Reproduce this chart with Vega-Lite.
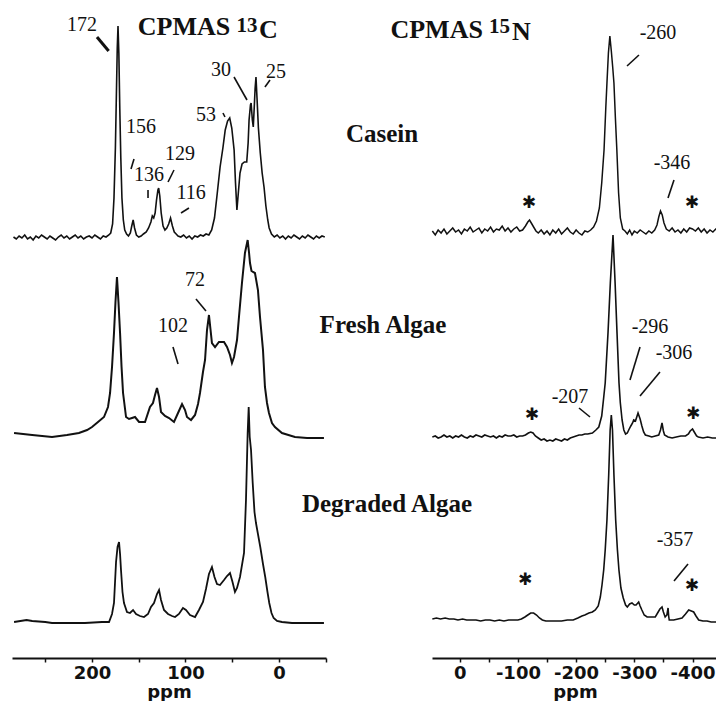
{
"$schema":"https://vega.github.io/schema/vega-lite/v6.json",
"background":"white",
"padding":{"left":10,"top":0,"right":0,"bottom":0},
"autosize":{"type":"pad"},
"bounds":"flush",
"spacing":106,
"config":{"view":{"stroke":null},
 "axis":{"grid":false,"domainColor":"#111","domainWidth":2,"tickColor":"#111","tickWidth":1.5,"tickSize":4,"labelFont":"DejaVu Sans","labelFontSize":18,"labelFontWeight":"bold","labelColor":"#111","labelPadding":2,"titleFont":"DejaVu Sans","titleFontSize":18,"titleFontWeight":"bold","titleColor":"#111","titlePadding":1}},
"datasets":{
"cCasein":[{"ppm":284,"I":1},{"ppm":281,"I":-1},{"ppm":278,"I":2},{"ppm":275,"I":0},{"ppm":272,"I":3},{"ppm":269,"I":-1},{"ppm":266,"I":1},{"ppm":263,"I":-2},{"ppm":260,"I":2},{"ppm":257,"I":0},{"ppm":254,"I":3},{"ppm":251,"I":1},{"ppm":248,"I":-1},{"ppm":245,"I":2},{"ppm":242,"I":0},{"ppm":239,"I":-2},{"ppm":236,"I":1},{"ppm":233,"I":3},{"ppm":230,"I":0},{"ppm":227,"I":2},{"ppm":224,"I":-1},{"ppm":221,"I":1},{"ppm":218,"I":3},{"ppm":215,"I":0},{"ppm":212,"I":2},{"ppm":209,"I":-1},{"ppm":206,"I":1},{"ppm":203,"I":2},{"ppm":200,"I":0},{"ppm":197,"I":3},{"ppm":194,"I":1},{"ppm":191,"I":-1},{"ppm":188,"I":2},{"ppm":185,"I":1},{"ppm":182,"I":3},{"ppm":180,"I":5},{"ppm":178,"I":14},{"ppm":176.5,"I":40},{"ppm":175,"I":90},{"ppm":174,"I":140},{"ppm":173,"I":190},{"ppm":172.2,"I":212},{"ppm":171.3,"I":185},{"ppm":170.3,"I":130},{"ppm":169.2,"I":80},{"ppm":168,"I":40},{"ppm":166.5,"I":18},{"ppm":165,"I":8},{"ppm":163,"I":4},{"ppm":161,"I":2},{"ppm":159,"I":5},{"ppm":157.5,"I":12},{"ppm":156,"I":18},{"ppm":154.5,"I":10},{"ppm":152.5,"I":3},{"ppm":150,"I":1},{"ppm":147.5,"I":2},{"ppm":145,"I":4},{"ppm":142,"I":6},{"ppm":139.5,"I":10},{"ppm":137,"I":16},{"ppm":135.5,"I":22},{"ppm":134,"I":20},{"ppm":132.5,"I":25},{"ppm":131,"I":38},{"ppm":129.5,"I":48},{"ppm":128.7,"I":50},{"ppm":127.5,"I":42},{"ppm":126,"I":25},{"ppm":124,"I":12},{"ppm":122,"I":8},{"ppm":120,"I":10},{"ppm":118,"I":14},{"ppm":116,"I":20},{"ppm":114,"I":12},{"ppm":112,"I":6},{"ppm":110,"I":4},{"ppm":108,"I":2},{"ppm":105,"I":1},{"ppm":102,"I":3},{"ppm":99,"I":0},{"ppm":96,"I":2},{"ppm":93,"I":-1},{"ppm":90,"I":2},{"ppm":87,"I":1},{"ppm":84,"I":3},{"ppm":81,"I":2},{"ppm":78,"I":4},{"ppm":75,"I":3},{"ppm":72,"I":8},{"ppm":69,"I":20},{"ppm":66,"I":45},{"ppm":63,"I":71},{"ppm":60,"I":90},{"ppm":57.5,"I":108},{"ppm":55,"I":117},{"ppm":52.7,"I":120},{"ppm":50.5,"I":110},{"ppm":48,"I":88},{"ppm":46.5,"I":55},{"ppm":45,"I":28},{"ppm":43.5,"I":45},{"ppm":41.7,"I":65},{"ppm":39.5,"I":74},{"ppm":37,"I":76},{"ppm":34.5,"I":76},{"ppm":33,"I":95},{"ppm":32,"I":118},{"ppm":30.5,"I":133},{"ppm":29.8,"I":135},{"ppm":28.5,"I":118},{"ppm":27.5,"I":111},{"ppm":26.5,"I":130},{"ppm":25.5,"I":150},{"ppm":24.6,"I":161},{"ppm":23.5,"I":140},{"ppm":22,"I":110},{"ppm":20,"I":85},{"ppm":18,"I":65},{"ppm":16,"I":51},{"ppm":14,"I":32},{"ppm":12,"I":18},{"ppm":10.5,"I":10},{"ppm":8,"I":4},{"ppm":5,"I":1},{"ppm":2,"I":3},{"ppm":-1,"I":0},{"ppm":-4,"I":2},{"ppm":-7,"I":-1},{"ppm":-10,"I":2},{"ppm":-13,"I":0},{"ppm":-16,"I":3},{"ppm":-19,"I":1},{"ppm":-22,"I":-1},{"ppm":-25,"I":2},{"ppm":-28,"I":0},{"ppm":-31,"I":3},{"ppm":-34,"I":1},{"ppm":-37,"I":-1},{"ppm":-40,"I":2},{"ppm":-43,"I":0},{"ppm":-46,"I":2},{"ppm":-49,"I":1}],
"cFresh":[{"ppm":283.4,"I":4},{"ppm":264,"I":2},{"ppm":242.8,"I":0},{"ppm":226.8,"I":2},{"ppm":214,"I":4},{"ppm":205.3,"I":7},{"ppm":200,"I":10},{"ppm":193.6,"I":15},{"ppm":187.2,"I":20},{"ppm":182.9,"I":30},{"ppm":180.7,"I":44},{"ppm":178.6,"I":70},{"ppm":176.5,"I":104},{"ppm":174.9,"I":135},{"ppm":173.3,"I":160},{"ppm":171.7,"I":135},{"ppm":170,"I":104},{"ppm":168.4,"I":70},{"ppm":166.8,"I":44},{"ppm":163.6,"I":20},{"ppm":160.4,"I":18},{"ppm":157.2,"I":19},{"ppm":154,"I":20},{"ppm":149.7,"I":15},{"ppm":143.3,"I":15},{"ppm":138,"I":30},{"ppm":134.8,"I":34},{"ppm":132.6,"I":42},{"ppm":130.5,"I":49},{"ppm":128.3,"I":40},{"ppm":126.2,"I":25},{"ppm":121.9,"I":21},{"ppm":117.6,"I":19},{"ppm":112.3,"I":15},{"ppm":108,"I":24},{"ppm":103.7,"I":33},{"ppm":100.5,"I":27},{"ppm":98.4,"I":20},{"ppm":94.1,"I":17},{"ppm":89.8,"I":22},{"ppm":86.6,"I":33},{"ppm":84.5,"I":44},{"ppm":81.3,"I":65},{"ppm":79.1,"I":77},{"ppm":77,"I":107},{"ppm":74.9,"I":122},{"ppm":73.3,"I":108},{"ppm":71.7,"I":94},{"ppm":68.4,"I":90},{"ppm":64.2,"I":95},{"ppm":61,"I":95},{"ppm":58.8,"I":95},{"ppm":55.6,"I":90},{"ppm":52.4,"I":82},{"ppm":50.3,"I":74},{"ppm":48.1,"I":80},{"ppm":44.9,"I":97},{"ppm":42.8,"I":120},{"ppm":39.6,"I":154},{"ppm":36.4,"I":184},{"ppm":33.5,"I":197},{"ppm":32.1,"I":185},{"ppm":31,"I":174},{"ppm":29.4,"I":166},{"ppm":27.8,"I":165},{"ppm":25.7,"I":164},{"ppm":22.5,"I":147},{"ppm":20.3,"I":120},{"ppm":17.1,"I":87},{"ppm":15,"I":50},{"ppm":12.8,"I":34},{"ppm":10.7,"I":24},{"ppm":7.5,"I":14},{"ppm":4.3,"I":10},{"ppm":-3.2,"I":4},{"ppm":-17.1,"I":0},{"ppm":-30,"I":-1},{"ppm":-48.1,"I":-1}],
"cDeg":[{"ppm":283.4,"I":0},{"ppm":270,"I":2},{"ppm":264,"I":1},{"ppm":250,"I":0},{"ppm":242.8,"I":-1},{"ppm":221.4,"I":-1},{"ppm":207.5,"I":-1},{"ppm":189.3,"I":0},{"ppm":181.8,"I":0},{"ppm":178.6,"I":8},{"ppm":176.5,"I":19},{"ppm":174.3,"I":60},{"ppm":172.7,"I":75},{"ppm":171.1,"I":80},{"ppm":170,"I":68},{"ppm":169,"I":52},{"ppm":167.4,"I":30},{"ppm":165.8,"I":19},{"ppm":162.6,"I":10},{"ppm":159.4,"I":9},{"ppm":156.1,"I":12},{"ppm":152.9,"I":8},{"ppm":148.7,"I":6},{"ppm":144.4,"I":5},{"ppm":140.1,"I":8},{"ppm":136.9,"I":15},{"ppm":133.7,"I":19},{"ppm":130.5,"I":28},{"ppm":128.3,"I":32},{"ppm":126.2,"I":22},{"ppm":123,"I":12},{"ppm":118.7,"I":8},{"ppm":114.4,"I":6},{"ppm":111.2,"I":5},{"ppm":107,"I":8},{"ppm":102.7,"I":14},{"ppm":99.5,"I":12},{"ppm":95.2,"I":7},{"ppm":89.8,"I":5},{"ppm":85.6,"I":12},{"ppm":81.3,"I":20},{"ppm":78.1,"I":33},{"ppm":74.9,"I":48},{"ppm":71.7,"I":55},{"ppm":69,"I":45},{"ppm":66.3,"I":38},{"ppm":63.1,"I":37},{"ppm":58.8,"I":42},{"ppm":55.6,"I":46},{"ppm":52.4,"I":49},{"ppm":49.7,"I":40},{"ppm":47.1,"I":30},{"ppm":44.9,"I":34},{"ppm":41.7,"I":45},{"ppm":37.4,"I":69},{"ppm":35.3,"I":122},{"ppm":33.5,"I":189},{"ppm":32.4,"I":215},{"ppm":31.3,"I":185},{"ppm":29.9,"I":172},{"ppm":28.1,"I":139},{"ppm":26.2,"I":110},{"ppm":24.6,"I":99},{"ppm":22.5,"I":88},{"ppm":20,"I":75},{"ppm":17.1,"I":58},{"ppm":14.7,"I":45},{"ppm":12.3,"I":30},{"ppm":10.4,"I":19},{"ppm":8,"I":9},{"ppm":5.7,"I":4},{"ppm":2.1,"I":1},{"ppm":-3.2,"I":0},{"ppm":-13.9,"I":-1},{"ppm":-24.6,"I":-1},{"ppm":-35.3,"I":-1},{"ppm":-48.1,"I":-1}],
"nCasein":[{"ppm":47,"I":2},{"ppm":42,"I":-2},{"ppm":37,"I":3},{"ppm":32,"I":0},{"ppm":27,"I":4},{"ppm":22,"I":-1},{"ppm":17,"I":2},{"ppm":12,"I":5},{"ppm":7,"I":1},{"ppm":2,"I":3},{"ppm":-3,"I":-1},{"ppm":-8,"I":4},{"ppm":-13,"I":2},{"ppm":-18,"I":6},{"ppm":-23,"I":1},{"ppm":-28,"I":3},{"ppm":-33,"I":5},{"ppm":-38,"I":0},{"ppm":-43,"I":4},{"ppm":-48,"I":2},{"ppm":-53,"I":6},{"ppm":-58,"I":1},{"ppm":-63,"I":4},{"ppm":-68,"I":3},{"ppm":-73,"I":7},{"ppm":-78,"I":2},{"ppm":-83,"I":5},{"ppm":-88,"I":1},{"ppm":-93,"I":4},{"ppm":-98,"I":6},{"ppm":-103,"I":2},{"ppm":-108,"I":3},{"ppm":-113,"I":7},{"ppm":-117,"I":11},{"ppm":-120,"I":13},{"ppm":-123,"I":10},{"ppm":-127,"I":6},{"ppm":-131,"I":2},{"ppm":-135,"I":0},{"ppm":-140,"I":3},{"ppm":-145,"I":-1},{"ppm":-150,"I":2},{"ppm":-155,"I":-2},{"ppm":-160,"I":3},{"ppm":-165,"I":0},{"ppm":-170,"I":4},{"ppm":-175,"I":-1},{"ppm":-180,"I":2},{"ppm":-185,"I":5},{"ppm":-190,"I":1},{"ppm":-195,"I":-1},{"ppm":-200,"I":3},{"ppm":-205,"I":0},{"ppm":-210,"I":-2},{"ppm":-215,"I":2},{"ppm":-220,"I":1},{"ppm":-225,"I":3},{"ppm":-230,"I":6},{"ppm":-235,"I":12},{"ppm":-240,"I":25},{"ppm":-244,"I":50},{"ppm":-248,"I":83},{"ppm":-251,"I":125},{"ppm":-253,"I":150},{"ppm":-255.5,"I":180},{"ppm":-258,"I":197},{"ppm":-260.5,"I":182},{"ppm":-263,"I":165},{"ppm":-265,"I":150},{"ppm":-267.5,"I":115},{"ppm":-270,"I":83},{"ppm":-273,"I":40},{"ppm":-276,"I":15},{"ppm":-280,"I":4},{"ppm":-284,"I":2},{"ppm":-288,"I":-1},{"ppm":-292,"I":3},{"ppm":-296,"I":-2},{"ppm":-300,"I":2},{"ppm":-305,"I":0},{"ppm":-310,"I":3},{"ppm":-315,"I":1},{"ppm":-320,"I":-1},{"ppm":-325,"I":2},{"ppm":-330,"I":0},{"ppm":-335,"I":3},{"ppm":-339,"I":8},{"ppm":-342,"I":16},{"ppm":-345,"I":22},{"ppm":-348,"I":18},{"ppm":-351,"I":10},{"ppm":-355,"I":4},{"ppm":-360,"I":2},{"ppm":-365,"I":5},{"ppm":-370,"I":1},{"ppm":-375,"I":3},{"ppm":-380,"I":0},{"ppm":-385,"I":4},{"ppm":-390,"I":1},{"ppm":-395,"I":5},{"ppm":-400,"I":4},{"ppm":-405,"I":2},{"ppm":-410,"I":5},{"ppm":-415,"I":1},{"ppm":-420,"I":4},{"ppm":-425,"I":0},{"ppm":-430,"I":3},{"ppm":-435,"I":1},{"ppm":-440,"I":4},{"ppm":-443.8,"I":2}],
"nFresh":[{"ppm":47,"I":1},{"ppm":42,"I":2},{"ppm":37,"I":0},{"ppm":32,"I":1},{"ppm":27,"I":3},{"ppm":22,"I":1},{"ppm":17,"I":2},{"ppm":12,"I":0},{"ppm":7,"I":2},{"ppm":2,"I":1},{"ppm":-3,"I":3},{"ppm":-8,"I":1},{"ppm":-13,"I":0},{"ppm":-18,"I":2},{"ppm":-23,"I":1},{"ppm":-28,"I":3},{"ppm":-33,"I":2},{"ppm":-38,"I":1},{"ppm":-43,"I":3},{"ppm":-48,"I":2},{"ppm":-53,"I":1},{"ppm":-58,"I":2},{"ppm":-63,"I":0},{"ppm":-68,"I":2},{"ppm":-73,"I":1},{"ppm":-78,"I":3},{"ppm":-83,"I":2},{"ppm":-88,"I":2},{"ppm":-93,"I":3},{"ppm":-98,"I":1},{"ppm":-103,"I":2},{"ppm":-108,"I":2},{"ppm":-113,"I":3},{"ppm":-118,"I":5},{"ppm":-122,"I":6},{"ppm":-126,"I":5},{"ppm":-130,"I":2},{"ppm":-135,"I":0},{"ppm":-140,"I":-2},{"ppm":-145,"I":-1},{"ppm":-150,"I":-3},{"ppm":-155,"I":-2},{"ppm":-160,"I":-3},{"ppm":-165,"I":-1},{"ppm":-170,"I":-2},{"ppm":-175,"I":-3},{"ppm":-180,"I":-1},{"ppm":-185,"I":-2},{"ppm":-190,"I":0},{"ppm":-195,"I":1},{"ppm":-200,"I":2},{"ppm":-205,"I":3},{"ppm":-210,"I":3},{"ppm":-215,"I":4},{"ppm":-220,"I":4},{"ppm":-228,"I":5},{"ppm":-234,"I":8},{"ppm":-239,"I":11},{"ppm":-244,"I":22},{"ppm":-247.5,"I":41},{"ppm":-250,"I":55},{"ppm":-254.8,"I":105},{"ppm":-258.8,"I":155},{"ppm":-263.4,"I":203},{"ppm":-267,"I":155},{"ppm":-270.3,"I":105},{"ppm":-273.7,"I":55},{"ppm":-276,"I":35},{"ppm":-279,"I":18},{"ppm":-282,"I":8},{"ppm":-285,"I":4},{"ppm":-288,"I":5},{"ppm":-290.4,"I":8},{"ppm":-294,"I":12},{"ppm":-297,"I":15},{"ppm":-299,"I":18},{"ppm":-302,"I":17},{"ppm":-306.4,"I":25},{"ppm":-310,"I":19},{"ppm":-313,"I":12},{"ppm":-316,"I":6},{"ppm":-319,"I":3},{"ppm":-325,"I":2},{"ppm":-330,"I":1},{"ppm":-336,"I":2},{"ppm":-342,"I":3},{"ppm":-345,"I":8},{"ppm":-347.6,"I":15},{"ppm":-350,"I":7},{"ppm":-352,"I":3},{"ppm":-358,"I":1},{"ppm":-365,"I":0},{"ppm":-372,"I":1},{"ppm":-380,"I":2},{"ppm":-388,"I":2},{"ppm":-393,"I":4},{"ppm":-396,"I":7},{"ppm":-400,"I":9},{"ppm":-403,"I":6},{"ppm":-407,"I":2},{"ppm":-410,"I":1},{"ppm":-418,"I":0},{"ppm":-426,"I":1},{"ppm":-434,"I":0},{"ppm":-443.8,"I":0}],
"nDeg":[{"ppm":47,"I":1},{"ppm":40,"I":2},{"ppm":33,"I":1},{"ppm":25,"I":2},{"ppm":18,"I":1},{"ppm":10,"I":1},{"ppm":3,"I":0},{"ppm":-5,"I":1},{"ppm":-12,"I":0},{"ppm":-20,"I":0},{"ppm":-28,"I":0},{"ppm":-36,"I":-1},{"ppm":-44,"I":0},{"ppm":-52,"I":0},{"ppm":-60,"I":-1},{"ppm":-68,"I":0},{"ppm":-76,"I":-1},{"ppm":-84,"I":0},{"ppm":-92,"I":0},{"ppm":-100,"I":0},{"ppm":-106,"I":1},{"ppm":-112,"I":3},{"ppm":-117,"I":5},{"ppm":-122,"I":7},{"ppm":-127,"I":7},{"ppm":-132,"I":5},{"ppm":-137,"I":2},{"ppm":-142,"I":0},{"ppm":-148,"I":-1},{"ppm":-155,"I":-1},{"ppm":-165,"I":-1},{"ppm":-175,"I":-1},{"ppm":-185,"I":0},{"ppm":-195,"I":0},{"ppm":-203,"I":2},{"ppm":-210,"I":4},{"ppm":-215,"I":5},{"ppm":-222,"I":7},{"ppm":-228,"I":8},{"ppm":-233,"I":10},{"ppm":-238,"I":14},{"ppm":-241.6,"I":23},{"ppm":-244.5,"I":35},{"ppm":-247.4,"I":50},{"ppm":-250,"I":70},{"ppm":-253,"I":100},{"ppm":-256,"I":145},{"ppm":-258.5,"I":190},{"ppm":-260.5,"I":205},{"ppm":-262.5,"I":190},{"ppm":-265,"I":145},{"ppm":-268,"I":100},{"ppm":-271,"I":70},{"ppm":-273.6,"I":50},{"ppm":-277,"I":32},{"ppm":-281,"I":22},{"ppm":-285,"I":15},{"ppm":-288,"I":13},{"ppm":-292,"I":16},{"ppm":-296,"I":17},{"ppm":-300,"I":15},{"ppm":-303,"I":15},{"ppm":-307.5,"I":18},{"ppm":-310,"I":14},{"ppm":-313,"I":10},{"ppm":-317,"I":5},{"ppm":-322,"I":3},{"ppm":-330,"I":3},{"ppm":-336,"I":3},{"ppm":-340,"I":7},{"ppm":-344,"I":11},{"ppm":-347.6,"I":13},{"ppm":-350,"I":8},{"ppm":-353,"I":3},{"ppm":-356,"I":5},{"ppm":-358,"I":12},{"ppm":-359,"I":4},{"ppm":-360,"I":0},{"ppm":-367.7,"I":0},{"ppm":-375,"I":1},{"ppm":-382,"I":2},{"ppm":-388,"I":6},{"ppm":-393.5,"I":10},{"ppm":-398,"I":9},{"ppm":-402,"I":8},{"ppm":-406,"I":4},{"ppm":-410.6,"I":0},{"ppm":-418,"I":-1},{"ppm":-425,"I":-1},{"ppm":-432,"I":-2},{"ppm":-443.8,"I":-2}],
"labels":[{"g":"C-Casein","ppm":210.7,"I":213,"t":"172"},{"g":"C-Casein","ppm":147.6,"I":111,"t":"156"},{"g":"C-Casein","ppm":139.0,"I":63,"t":"136"},{"g":"C-Casein","ppm":105.9,"I":84,"t":"129"},{"g":"C-Casein","ppm":94.1,"I":45,"t":"116"},{"g":"C-Casein","ppm":78.1,"I":123,"t":"53"},{"g":"C-Casein","ppm":62,"I":168,"t":"30"},{"g":"C-Casein","ppm":3.2,"I":166,"t":"25"},{"g":"C-Fresh","ppm":89.8,"I":157,"t":"72"},{"g":"C-Fresh","ppm":113.4,"I":111,"t":"102"},{"g":"N-Casein","ppm":-340.7,"I":200,"t":"-260"},{"g":"N-Casein","ppm":-364.8,"I":70,"t":"-346"},{"g":"N-Fresh","ppm":-327,"I":111,"t":"-296"},{"g":"N-Fresh","ppm":-368.2,"I":85,"t":"-306"},{"g":"N-Fresh","ppm":-189.5,"I":41,"t":"-207"},{"g":"N-Deg","ppm":-369.9,"I":80,"t":"-357"}],
"leaders":[{"g":"C-Casein","ppm":155.1,"ppm2":158.3,"I":79,"I2":69},{"g":"C-Casein","ppm":140.1,"ppm2":140.1,"I":48,"I2":40},{"g":"C-Casein","ppm":112.3,"ppm2":118.7,"I":68,"I2":56},{"g":"C-Casein","ppm":96.3,"ppm2":104.8,"I":30,"I2":25},{"g":"C-Casein","ppm":59.9,"ppm2":57.8,"I":125,"I2":121},{"g":"C-Casein","ppm":48.1,"ppm2":34.2,"I":161,"I2":138},{"g":"C-Casein","ppm":9.6,"ppm2":15,"I":158,"I2":151},{"g":"C-Fresh","ppm":88.8,"ppm2":78.1,"I":138,"I2":126},{"g":"C-Fresh","ppm":113.4,"ppm2":108,"I":90,"I2":73},{"g":"N-Casein","ppm":-308,"ppm2":-287.5,"I":178,"I2":167},{"g":"N-Casein","ppm":-368.2,"ppm2":-357.9,"I":53,"I2":35},{"g":"N-Fresh","ppm":-309.8,"ppm2":-292.6,"I":91,"I2":58},{"g":"N-Fresh","ppm":-344.1,"ppm2":-309.8,"I":66,"I2":42},{"g":"N-Fresh","ppm":-205,"ppm2":-223.9,"I":30,"I2":21},{"g":"N-Deg","ppm":-392.3,"ppm2":-368.2,"I":56,"I2":39}],
"boldLeaders":[{"g":"C-Casein","ppm":194.7,"ppm2":182.2,"I":201,"I2":187}],
"stars":[{"g":"N-Casein","ppm":-119,"I":30},{"g":"N-Casein","ppm":-399,"I":30},{"g":"N-Fresh","ppm":-124.2,"I":23},{"g":"N-Fresh","ppm":-400.9,"I":24},{"g":"N-Deg","ppm":-112.2,"I":40},{"g":"N-Deg","ppm":-399.1,"I":34}],
"names":[{"g":"C-Casein","ppm":-110.2,"I":96,"t":"Casein"},{"g":"C-Fresh","ppm":-111.2,"I":104,"t":"Fresh Algae"},{"g":"C-Deg","ppm":-115.5,"I":110,"t":"Degraded Algae"}],
"heads":[{"g":"C-Casein","ppm":151,"I":203,"t":"CPMAS"},{"g":"C-Casein","ppm":21.4,"I":200,"t":"C"},{"g":"N-Casein","ppm":119,"I":195,"t":"CPMAS"},{"g":"N-Casein","ppm":-90,"I":193,"t":"N"}],
"sups":[{"g":"C-Casein","ppm":45.5,"I":206,"t":"13"},{"g":"N-Casein","ppm":-50.3,"I":200,"t":"15"}]
},
"hconcat":[
{"width":314,"height":658,
 "encoding":{"x":{"field":"ppm","type":"quantitative","title":"ppm","scale":{"domain":[-50.3,285.6],"reverse":true,"nice":false,"zero":false},"axis":{"values":[250,200,150,100,50,0,-50],"labelExpr":"datum.value % 100 == 0 ? '' + datum.value : ''"}}},
 "layer":[
  {"encoding":{"y":{"field":"I","type":"quantitative","scale":{"domain":[-420,238],"nice":false,"zero":false},"axis":null}},
   "layer":[
    {"data":{"name":"cCasein"},"mark":{"type":"line","color":"#111","strokeWidth":1.6},"encoding":{}},
    {"data":{"name":"leaders"},"transform":[{"filter":"datum.g == 'C-Casein'"}],"mark":{"type":"rule","color":"#111","strokeWidth":1.6},"encoding":{"x2":{"field":"ppm2"},"y2":{"field":"I2"}}},
    {"data":{"name":"boldLeaders"},"mark":{"type":"rule","color":"#111","strokeWidth":3},"encoding":{"x2":{"field":"ppm2"},"y2":{"field":"I2"}}},
    {"data":{"name":"labels"},"transform":[{"filter":"datum.g == 'C-Casein'"}],"mark":{"type":"text","font":"Liberation Serif","fontSize":20,"color":"#111","align":"center","baseline":"middle"},"encoding":{"text":{"field":"t"}}},
    {"data":{"name":"names"},"transform":[{"filter":"datum.g == 'C-Casein'"}],"mark":{"type":"text","font":"Liberation Serif","fontSize":25,"fontWeight":"bold","color":"#111","align":"center","baseline":"alphabetic"},"encoding":{"text":{"field":"t"}}},
    {"data":{"name":"heads"},"transform":[{"filter":"datum.g == 'C-Casein'"}],"mark":{"type":"text","font":"Liberation Serif","fontSize":26,"fontWeight":"bold","color":"#111","align":"left","baseline":"alphabetic"},"encoding":{"text":{"field":"t"}}},
    {"data":{"name":"sups"},"transform":[{"filter":"datum.g == 'C-Casein'"}],"mark":{"type":"text","font":"Liberation Serif","fontSize":21,"fontWeight":"bold","color":"#111","align":"left","baseline":"alphabetic"},"encoding":{"text":{"field":"t"}}}
   ]},
  {"encoding":{"y":{"field":"I","type":"quantitative","scale":{"domain":[-221,437],"nice":false,"zero":false},"axis":null}},
   "layer":[
    {"data":{"name":"cFresh"},"mark":{"type":"line","color":"#111","strokeWidth":2},"encoding":{}},
    {"data":{"name":"leaders"},"transform":[{"filter":"datum.g == 'C-Fresh'"}],"mark":{"type":"rule","color":"#111","strokeWidth":1.6},"encoding":{"x2":{"field":"ppm2"},"y2":{"field":"I2"}}},
    {"data":{"name":"labels"},"transform":[{"filter":"datum.g == 'C-Fresh'"}],"mark":{"type":"text","font":"Liberation Serif","fontSize":20,"color":"#111","align":"center","baseline":"middle"},"encoding":{"text":{"field":"t"}}},
    {"data":{"name":"names"},"transform":[{"filter":"datum.g == 'C-Fresh'"}],"mark":{"type":"text","font":"Liberation Serif","fontSize":25,"fontWeight":"bold","color":"#111","align":"center","baseline":"alphabetic"},"encoding":{"text":{"field":"t"}}}
   ]},
  {"encoding":{"y":{"field":"I","type":"quantitative","scale":{"domain":[-36,622],"nice":false,"zero":false},"axis":null}},
   "layer":[
    {"data":{"name":"cDeg"},"mark":{"type":"line","color":"#111","strokeWidth":1.8},"encoding":{}},
    {"data":{"name":"names"},"transform":[{"filter":"datum.g == 'C-Deg'"}],"mark":{"type":"text","font":"Liberation Serif","fontSize":25,"fontWeight":"bold","color":"#111","align":"center","baseline":"alphabetic"},"encoding":{"text":{"field":"t"}}}
   ]}
 ],
 "resolve":{"scale":{"y":"independent"},"axis":{"y":"independent"}}
},
{"width":286,"height":658,
 "encoding":{"x":{"field":"ppm","type":"quantitative","title":"ppm","scale":{"domain":[-443.8,47.6],"reverse":true,"nice":false,"zero":false},"axis":{"values":[0,-50,-100,-150,-200,-250,-300,-350,-400],"labelExpr":"datum.value % 100 == 0 ? '' + datum.value : ''"}}},
 "layer":[
  {"encoding":{"y":{"field":"I","type":"quantitative","scale":{"domain":[-425,233],"nice":false,"zero":false},"axis":null}},
   "layer":[
    {"data":{"name":"nCasein"},"mark":{"type":"line","color":"#111","strokeWidth":1.5},"encoding":{}},
    {"data":{"name":"leaders"},"transform":[{"filter":"datum.g == 'N-Casein'"}],"mark":{"type":"rule","color":"#111","strokeWidth":1.6},"encoding":{"x2":{"field":"ppm2"},"y2":{"field":"I2"}}},
    {"data":{"name":"labels"},"transform":[{"filter":"datum.g == 'N-Casein'"}],"mark":{"type":"text","font":"Liberation Serif","fontSize":20,"color":"#111","align":"center","baseline":"middle"},"encoding":{"text":{"field":"t"}}},
    {"data":{"name":"stars"},"transform":[{"filter":"datum.g == 'N-Casein'"}],"mark":{"type":"text","text":"✱","font":"DejaVu Sans","fontSize":17,"fontWeight":"bold","color":"#111","align":"center","baseline":"middle"},"encoding":{}},
    {"data":{"name":"heads"},"transform":[{"filter":"datum.g == 'N-Casein'"}],"mark":{"type":"text","font":"Liberation Serif","fontSize":26,"fontWeight":"bold","color":"#111","align":"left","baseline":"alphabetic"},"encoding":{"text":{"field":"t"}}},
    {"data":{"name":"sups"},"transform":[{"filter":"datum.g == 'N-Casein'"}],"mark":{"type":"text","font":"Liberation Serif","fontSize":21,"fontWeight":"bold","color":"#111","align":"left","baseline":"alphabetic"},"encoding":{"text":{"field":"t"}}}
   ]},
  {"encoding":{"y":{"field":"I","type":"quantitative","scale":{"domain":[-220,438],"nice":false,"zero":false},"axis":null}},
   "layer":[
    {"data":{"name":"nFresh"},"mark":{"type":"line","color":"#111","strokeWidth":1.6},"encoding":{}},
    {"data":{"name":"leaders"},"transform":[{"filter":"datum.g == 'N-Fresh'"}],"mark":{"type":"rule","color":"#111","strokeWidth":1.6},"encoding":{"x2":{"field":"ppm2"},"y2":{"field":"I2"}}},
    {"data":{"name":"labels"},"transform":[{"filter":"datum.g == 'N-Fresh'"}],"mark":{"type":"text","font":"Liberation Serif","fontSize":20,"color":"#111","align":"center","baseline":"middle"},"encoding":{"text":{"field":"t"}}},
    {"data":{"name":"stars"},"transform":[{"filter":"datum.g == 'N-Fresh'"}],"mark":{"type":"text","text":"✱","font":"DejaVu Sans","fontSize":17,"fontWeight":"bold","color":"#111","align":"center","baseline":"middle"},"encoding":{}}
   ]},
  {"encoding":{"y":{"field":"I","type":"quantitative","scale":{"domain":[-38,620],"nice":false,"zero":false},"axis":null}},
   "layer":[
    {"data":{"name":"nDeg"},"mark":{"type":"line","color":"#111","strokeWidth":1.6},"encoding":{}},
    {"data":{"name":"leaders"},"transform":[{"filter":"datum.g == 'N-Deg'"}],"mark":{"type":"rule","color":"#111","strokeWidth":1.6},"encoding":{"x2":{"field":"ppm2"},"y2":{"field":"I2"}}},
    {"data":{"name":"labels"},"transform":[{"filter":"datum.g == 'N-Deg'"}],"mark":{"type":"text","font":"Liberation Serif","fontSize":20,"color":"#111","align":"center","baseline":"middle"},"encoding":{"text":{"field":"t"}}},
    {"data":{"name":"stars"},"transform":[{"filter":"datum.g == 'N-Deg'"}],"mark":{"type":"text","text":"✱","font":"DejaVu Sans","fontSize":17,"fontWeight":"bold","color":"#111","align":"center","baseline":"middle"},"encoding":{}}
   ]}
 ],
 "resolve":{"scale":{"y":"independent"},"axis":{"y":"independent"}}
}
]
}
